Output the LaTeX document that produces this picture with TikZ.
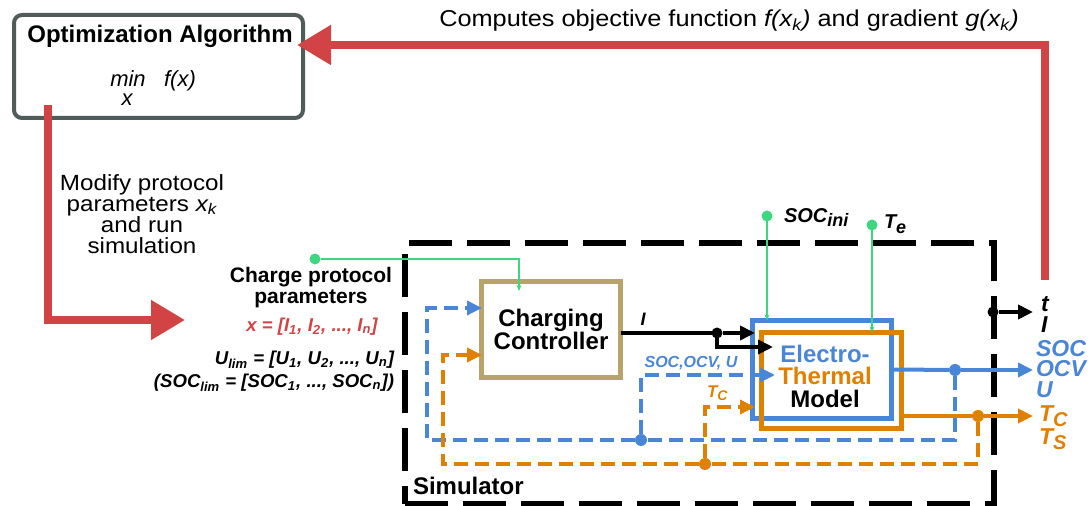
\documentclass[tikz,border=0pt]{standalone}
\usepackage{fontspec}
\setmainfont{Liberation Sans}
\newfontfamily\widefont[FakeStretch=1.1]{Liberation Sans}
\usetikzlibrary{arrows.meta,calc}
\definecolor{cred}{HTML}{D24346}
\definecolor{cgray}{HTML}{4F5C5A}
\definecolor{ctan}{HTML}{B8A46B}
\definecolor{cblue}{HTML}{4A86D8}
\definecolor{corange}{HTML}{E08000}
\definecolor{cgreen}{HTML}{3DD681}
\newcommand{\sub}[1]{\textsubscript{#1}}
\begin{document}
\begin{tikzpicture}[x=0.5pt,y=-0.5pt,
  every node/.style={inner sep=0pt, outer sep=0pt},
  redline/.style={draw=cred, line width=4pt, -{Triangle[length=17pt,width=19pt]}},
  gline/.style={draw=cgreen, line width=0.75pt, -{Stealth[length=3pt,width=2.5pt]}},
  gdot/.style={circle, fill=cgreen, minimum size=5.5pt},
  bline/.style={draw=black, line width=2pt, -{Triangle[length=7.5pt,width=7pt]}},
  bluel/.style={draw=cblue, line width=2pt, -{Triangle[length=7.5pt,width=7pt]}},
  orl/.style={draw=corange, line width=2pt, -{Triangle[length=7.5pt,width=7pt]}},
  dashb/.style={bluel, line width=1.75pt, dash pattern=on 7pt off 3.5pt},
  dasho/.style={orl, line width=1.75pt, dash pattern=on 7pt off 3.5pt},
  dashbn/.style={draw=cblue, line width=1.75pt, dash pattern=on 7pt off 3.5pt},
  dashon/.style={draw=corange, line width=1.75pt, dash pattern=on 7pt off 3.5pt},
  kdot/.style={circle, fill=black, minimum size=5.5pt},
  bdot/.style={circle, fill=cblue, minimum size=6pt},
  odot/.style={circle, fill=corange, minimum size=6pt},
  bf/.style={font=\bfseries\fontsize{10.5}{10.5}\selectfont},
  bfit/.style={font=\bfseries\itshape\fontsize{9.3}{12}\selectfont},
  outlab/.style={anchor=base west, font=\bfseries\itshape\fontsize{11.5}{12}\selectfont}
]
\useasboundingbox (0,0) rectangle (1091,506);

% optimization box
\node[draw=cgray, line width=2pt, rounded corners=4pt, minimum width=144.5pt, minimum height=51.5pt] (opt) at (158.5,66.5) {};
\node[anchor=base, font=\bfseries\fontsize{12}{14}\selectfont] (optt) at (160,43) {Optimization Algorithm};
\node[anchor=base, font=\itshape\fontsize{11}{13}\selectfont] (omin) at (128,87) {min};
\node[anchor=base, font=\itshape\fontsize{11}{13}\selectfont] (ox) at (127,106) {x};
\node[anchor=base, font=\itshape\fontsize{11}{13}\selectfont] (ofx) at (180,87) {f(x)};

% top text
\node[anchor=base, font=\widefont\fontsize{11.5}{13}\selectfont] (comp) at (729,27) {Computes objective function \textit{f(x\sub{k})} and gradient \textit{g(x\sub{k})}};

% left text
\node[align=center, font=\widefont\fontsize{11}{10.5}\selectfont] (mod) at (142,214) {Modify protocol\\parameters \textit{x\sub{k}}\\and run\\simulation};

% simulator
\node[draw, line width=3pt, dash pattern=on 21.5pt off 7.5pt, minimum width=294.5pt, minimum height=130.5pt] (sim) at (699.5,373.5) {};
\node[anchor=base west, font=\bfseries\fontsize{12}{14}\selectfont] (simlab) at (413,495) {Simulator};

% charge protocol parameters
\node[align=center, bf] (cpp) at (311,288) {Charge protocol\\parameters};
\node[anchor=base, bfit, text=cred] (xv) at (312,332) {x = [I\sub{1}, I\sub{2}, ..., I\sub{n}]};
\node[anchor=base east, bfit] (ul) at (394,365) {U\sub{lim} = [U\sub{1}, U\sub{2}, ..., U\sub{n}]};
\node[anchor=base east, bfit] (sl) at (394,388) {(SOC\sub{lim} = [SOC\sub{1}, ..., SOC\sub{n}])};

% blocks
\node[draw=ctan, line width=2.5pt, minimum width=69.5pt, minimum height=48pt, align=center, font=\bfseries\fontsize{12}{11.5}\selectfont] (ctrl) at (551,329.5) {Charging\\Controller};
\node[draw=cblue, line width=2.5pt, minimum width=69.5pt, minimum height=49pt] (ebox) at (822,369.5) {};
\node[draw=corange, line width=2.5pt, minimum width=70pt, minimum height=48pt] (tbox) at (831.5,380.5) {};
\node[align=center, font=\bfseries\fontsize{12}{11.25}\selectfont] (etm) at (825,376) {\textcolor{cblue}{Electro-}\\\textcolor{corange}{Thermal}\\Model};

% green inputs
\node[gdot] (cpdot) at (315,259) {};
\node[gdot] (socdot) at (767,216) {};
\node[gdot] (tedot) at (872,225) {};
\coordinate (cpt) at (519,291);
\draw[gline] (cpdot) -| (cpt);
\draw[gline] (socdot) -- (socdot |- ebox.north);
\draw[gline] (tedot) -- (tedot |- tbox.north);
\node[anchor=base west, font=\bfseries\itshape\fontsize{10}{12}\selectfont] (soclab) at (784,223) {SOC\raisebox{-2pt}{\fontsize{9}{10}\selectfont ini}};
\node[anchor=base west, font=\bfseries\itshape\fontsize{10}{12}\selectfont] (telab) at (884,229) {T\raisebox{-2.5pt}{\fontsize{9}{10}\selectfont e}};

% red feedback arrows
\coordinate (rs) at (1045,280);
\coordinate (rt) at (297,45);
\draw[redline] (rs) |- (rt);
\coordinate (rb) at (48,105);
\coordinate (rbt) at (185,320);
\draw[redline] (rb) |- (rbt);

% current I
\node[kdot] (idot) at (717,333) {};
\coordinate (i1) at (755,333);
\coordinate (i2) at (773,347);
\draw[line width=2pt] (ctrl.east |- idot) -- (idot);
\draw[bline] (idot) -- (i1);
\draw[bline] (idot) |- (i2);
\node[anchor=center, font=\bfseries\itshape\fontsize{9}{10}\selectfont] (ilab) at (643,319) {I};

% outputs
\node[bdot] (bdot) at (955,370) {};
\node[odot] (odot) at (978,416) {};
\coordinate (bo) at (1033,370);
\coordinate (oo) at (1033,416);
\draw[draw=cblue, line width=2pt] (ebox.east) -- (bdot);
\draw[bluel] (bdot) -- (bo);
\draw[draw=corange, line width=2pt] (tbox.east |- odot) -- (odot);
\draw[orl] (odot) -- (oo);
\node[kdot] (tdot) at (993,312) {};
\coordinate (to) at (1033,312);
\draw[bline] (tdot) -- (to);

\node[outlab] (lt) at (1041,312) {t};
\node[outlab] (li) at (1041,333) {I};
\node[outlab, text=cblue] (lsoc) at (1036,357) {SOC};
\node[outlab, text=cblue] (locv) at (1036,377) {OCV};
\node[outlab, text=cblue] (lu) at (1036,398) {U};
\node[outlab, text=corange] (ltc) at (1039,422) {T\raisebox{-2.5pt}{\fontsize{10}{10}\selectfont C}};
\node[outlab, text=corange] (lts) at (1039,445) {T\raisebox{-2.5pt}{\fontsize{10}{10}\selectfont S}};

% feedback dashed loops
\node[bdot] (bdot2) at (641,440) {};
\node[odot] (odot2) at (705,464) {};
\coordinate (bc) at (482,308);
\coordinate (oc) at (482,355);
\coordinate (bm) at (775,375);
\coordinate (om) at (755,407);
\draw[dashbn] (bdot) |- (bdot2);
\draw[dashb] (bdot2) -| (427,308) -- (bc);
\draw[dashb] (bdot2) |- (bm);
\draw[dashon] (odot) |- (odot2);
\draw[dasho] (odot2) -| (443,355) -- (oc);
\draw[dasho] (odot2) |- (om);
\node[anchor=base, font=\bfseries\itshape\fontsize{8}{9}\selectfont, text=cblue] (sovlab) at (691,368) {SOC,OCV, U};
\node[anchor=base west, font=\bfseries\itshape\fontsize{8.5}{9}\selectfont, text=corange] (tclab) at (707,398) {T\raisebox{-1.5pt}{\fontsize{7}{8}\selectfont C}};
\end{tikzpicture}
\end{document}
